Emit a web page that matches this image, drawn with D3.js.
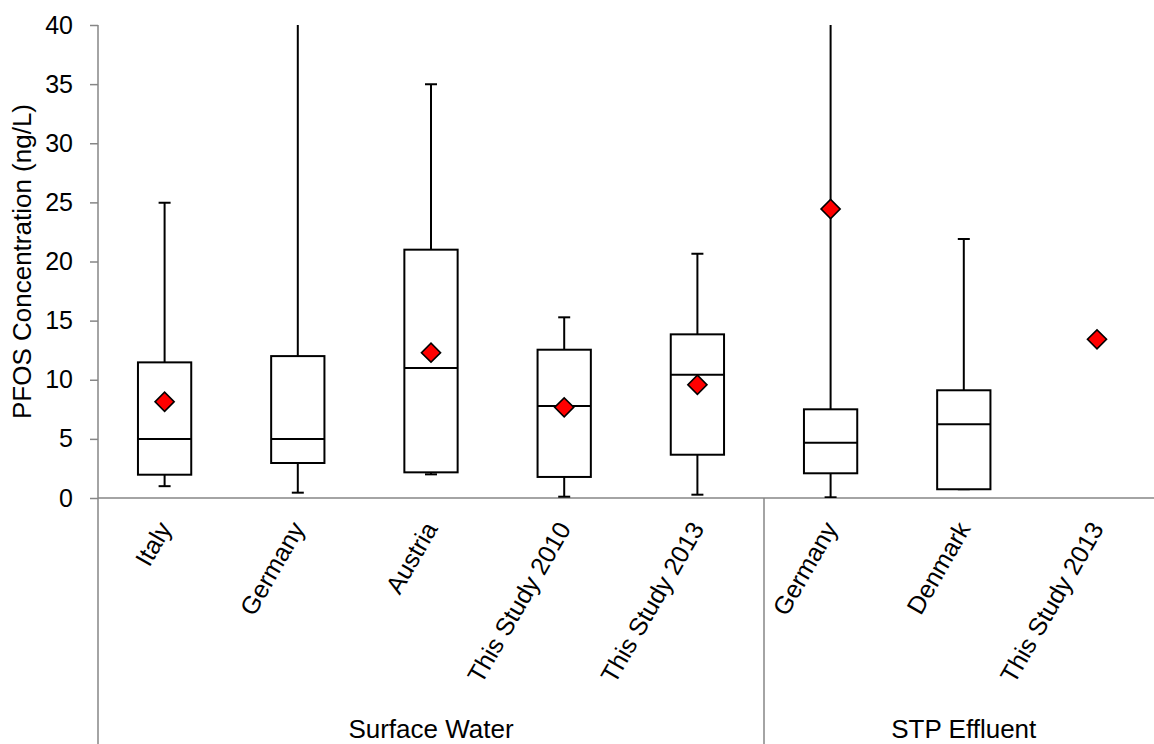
<!DOCTYPE html>
<html>
<head>
<meta charset="utf-8">
<script src="https://cdn.jsdelivr.net/npm/d3@7"></script>
<style>
  html, body { margin: 0; padding: 0; background: #fff; }
  svg { display: block; font-family: "Liberation Sans", Arial, sans-serif; }
</style>
</head>
<body>
<svg id="chart" width="1154" height="744"></svg>
<script>
// ---- data ----
const categories = ["Italy", "Germany", "Austria", "This Study 2010", "This Study 2013", "Germany", "Denmark", "This Study 2013"];
const groupNames = ["Surface Water", "STP Effluent"];
const groupSizes = [5, 3];
const whiskerLow  = [1.0, 0.45, 2.0, 0.11, 0.28, 0.06, 0.74, null];
const q1          = [1.97, 2.96, 2.17, 1.78, 3.66, 2.09, 0.74, null];
const median      = [5.0, 5.0, 11.0, 7.78, 10.43, 4.68, 6.23, null];
const q3          = [11.47, 12.0, 21.0, 12.54, 13.84, 7.5, 9.11, null];
const whiskerHigh = [24.96, 45, 35.0, 15.28, 20.66, 45, 21.9, null];
const meanVals    = [8.14, null, 12.29, 7.67, 9.58, 24.44, null, 13.42];
const yTicks = [0, 5, 10, 15, 20, 25, 30, 35, 40];
const yTitle = "PFOS Concentration (ng/L)";

// ---- layout ----
const svg = d3.select("#chart");
const mLeft = 98, mTop = 25, mBottom = 498;
const band = 133.2;
const mRight = mLeft + band * categories.length;
const axisColor = "#868686";

const x = d3.scaleBand().domain(d3.range(categories.length)).range([mLeft, mRight]).paddingInner(0).paddingOuter(0);
const y = d3.scaleLinear().domain([0, 40]).range([mBottom, mTop]);
const cx = i => x(i) + x.bandwidth() / 2;
const boxW = x.bandwidth() * 0.4;
const capW = 12;

svg.append("defs").append("clipPath").attr("id", "plotclip")
  .append("rect").attr("x", mLeft).attr("y", mTop).attr("width", mRight - mLeft).attr("height", mBottom - mTop);

// y axis
const yAxis = d3.axisLeft(y).tickValues(yTicks).tickSize(8).tickPadding(17).tickSizeOuter(0);
const ya = svg.append("g").attr("transform", `translate(${mLeft},0)`).call(yAxis);
ya.select(".domain").remove();
ya.selectAll(".tick line").attr("stroke", axisColor).attr("stroke-width", 1.5);
ya.selectAll(".tick text").attr("font-size", 25).attr("fill", "#000")
  .attr("font-family", "Liberation Sans, Arial, sans-serif");

// vertical y-axis line extending to bottom (multi-level category border)
svg.append("line").attr("x1", mLeft).attr("x2", mLeft).attr("y1", mTop).attr("y2", 744)
  .attr("stroke", axisColor).attr("stroke-width", 1.5);

// x axis line
svg.append("line").attr("x1", mLeft).attr("x2", mRight).attr("y1", mBottom).attr("y2", mBottom)
  .attr("stroke", axisColor).attr("stroke-width", 1.5);

// group separators & labels
let start = 0;
groupNames.forEach((g, gi) => {
  const end = start + groupSizes[gi];
  const x0 = x(start), x1 = x(end - 1) + x.bandwidth();
  if (gi > 0) {
    svg.append("line").attr("x1", x0).attr("x2", x0).attr("y1", mBottom).attr("y2", 744)
      .attr("stroke", axisColor).attr("stroke-width", 1.5);
  }
  svg.append("text").attr("x", (x0 + x1) / 2).attr("y", 738)
    .attr("text-anchor", "middle").attr("font-size", 26).attr("fill", "#000").text(g);
  start = end;
});

// category labels
categories.forEach((c, i) => {
  svg.append("text")
    .attr("transform", `translate(${cx(i)},${mBottom + 26}) rotate(-60)`)
    .attr("text-anchor", "end").attr("dy", "0.35em")
    .attr("font-size", 25).attr("fill", "#000").text(c);
});

// y title
svg.append("text")
  .attr("transform", `translate(22,${(mTop + mBottom) / 2}) rotate(-90)`)
  .attr("text-anchor", "middle").attr("dy", "0.35em")
  .attr("font-size", 26).attr("fill", "#000").text(yTitle);

// boxes
const plot = svg.append("g").attr("clip-path", "url(#plotclip)");
categories.forEach((c, i) => {
  if (q1[i] == null) return;
  const xc = cx(i);
  const g = plot.append("g").attr("stroke", "#000").attr("stroke-width", 2).attr("fill", "none");
  g.append("line").attr("x1", xc).attr("x2", xc).attr("y1", y(q3[i])).attr("y2", y(whiskerHigh[i]));
  g.append("line").attr("x1", xc - capW / 2).attr("x2", xc + capW / 2).attr("y1", y(whiskerHigh[i])).attr("y2", y(whiskerHigh[i]));
  g.append("line").attr("x1", xc).attr("x2", xc).attr("y1", y(q1[i])).attr("y2", y(whiskerLow[i]));
  g.append("line").attr("x1", xc - capW / 2).attr("x2", xc + capW / 2).attr("y1", y(whiskerLow[i])).attr("y2", y(whiskerLow[i]));
  g.append("rect").attr("x", xc - boxW / 2).attr("y", y(q3[i])).attr("width", boxW)
    .attr("height", y(q1[i]) - y(q3[i])).attr("fill", "#fff");
  g.append("line").attr("x1", xc - boxW / 2).attr("x2", xc + boxW / 2).attr("y1", y(median[i])).attr("y2", y(median[i]));
});

// means
const diamond = d3.symbol().type(d3.symbolSquare).size(182);
categories.forEach((c, i) => {
  if (meanVals[i] == null) return;
  plot.append("path").attr("d", diamond())
    .attr("transform", `translate(${cx(i)},${y(meanVals[i])}) rotate(45)`)
    .attr("fill", "#ff0000").attr("stroke", "#000").attr("stroke-width", 1.6);
});
</script>
</body>
</html>
